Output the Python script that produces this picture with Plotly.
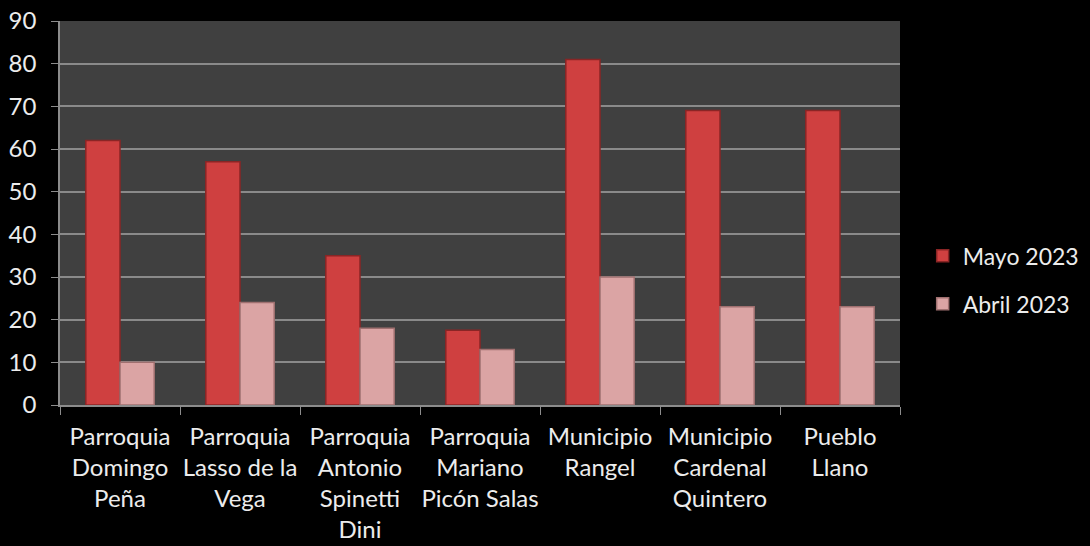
import plotly.graph_objects as go

categories = [
    "Parroquia<br>Domingo<br>Peña",
    "Parroquia<br>Lasso de la<br>Vega",
    "Parroquia<br>Antonio<br>Spinetti<br>Dini",
    "Parroquia<br>Mariano<br>Picón Salas",
    "Municipio<br>Rangel",
    "Municipio<br>Cardenal<br>Quintero",
    "Pueblo<br>Llano",
]
mayo_2023 = [62, 57, 35, 17.5, 81, 69, 69]
abril_2023 = [10, 24, 18, 13, 30, 23, 23]
y_ticks = [0, 10, 20, 30, 40, 50, 60, 70, 80, 90]

font_family = "Lato, 'Open Sans', sans-serif"
text_color = "#ececec"

fig = go.Figure()
fig.add_trace(go.Bar(
    name="Mayo 2023", x=categories, y=mayo_2023, legendgroup="m",
    marker=dict(color="#cf4040", line=dict(color="#8a2525", width=1.5)),
))
fig.add_trace(go.Bar(
    name="Abril 2023", x=categories, y=abril_2023, legendgroup="a",
    marker=dict(color="#dba4a4", line=dict(color="#a07070", width=1.5)),
))

fig.update_layout(
    width=1090, height=546,
    paper_bgcolor="#000000", plot_bgcolor="#404040",
    margin=dict(l=60, r=190, t=21, b=141, autoexpand=False),
    barmode="group", bargap=0.43, bargroupgap=0.0,
    font=dict(family=font_family, size=24, color=text_color),
    legend=dict(
        x=1.027, y=0.326, xanchor="left", yanchor="middle",
        font=dict(size=23, color=text_color), tracegroupgap=15,
        bgcolor="rgba(0,0,0,0)",
    ),
    xaxis=dict(
        showline=True, linecolor="#8c8c8c", linewidth=1.5,
        ticks="outside", tickson="boundaries", ticklen=8, tickcolor="#8c8c8c",
        tickfont=dict(size=24, color=text_color), tickangle=0,
        ticklabelstandoff=9, automargin=False,
    ),
    yaxis=dict(
        range=[0, 90], tickvals=y_ticks, showgrid=True, gridcolor="#8a8a8a",
        gridwidth=1.5, zeroline=False,
        showline=True, linecolor="#8c8c8c", linewidth=1.5,
        ticks="outside", ticklen=7, tickcolor="#8c8c8c",
        tickfont=dict(size=24, color=text_color),
        ticklabelstandoff=10, automargin=False,
    ),
)

fig.write_html(
    "out.html",
    config={"displayModeBar": False},
    post_script="document.body.style.margin='0';",
)
